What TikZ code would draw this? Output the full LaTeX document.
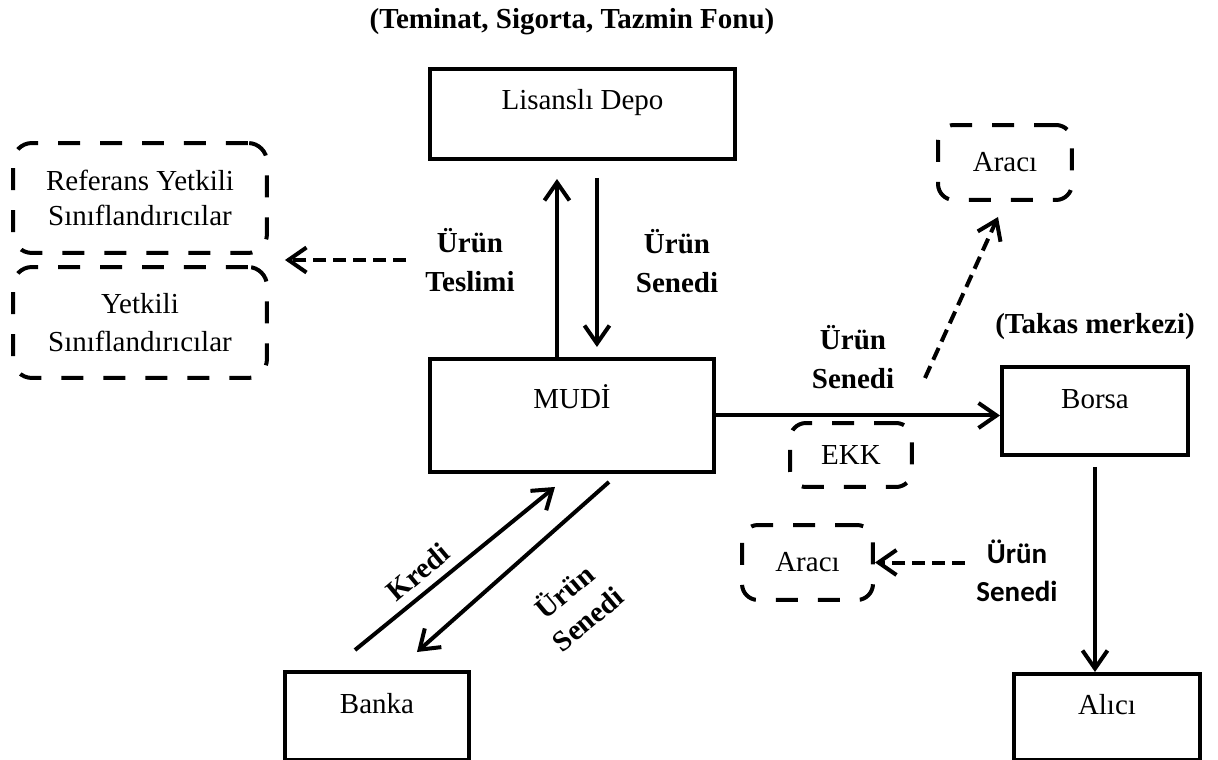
\documentclass[tikz,border=0pt]{standalone}
\usepackage{fontspec}
\setmainfont{Liberation Serif}
\newfontfamily\calibri{Carlito}
\usetikzlibrary{arrows.meta}
\tikzset{
  kutu/.style={draw, line width=0.08cm, inner sep=0pt, anchor=north west, font=\fontsize{16.5}{20}\selectfont},
  kesikkutu/.style={draw, line width=0.08cm, dash pattern=on 0.44cm off 0.4cm, rounded corners=0.38cm, align=center, font=\fontsize{16.5}{19.5}\selectfont},
  etiket/.style={align=center, font=\bfseries\fontsize{16.5}{22.5}\selectfont},
  ok/.style={line width=0.08cm, -{Straight Barb[length=0.36cm,width=0.5cm]}},
  kesikok/.style={ok, dash pattern=on 0.26cm off 0.14cm}
}
\begin{document}
\begin{tikzpicture}[x=0.02cm, y=-0.02cm]
 \useasboundingbox (0,0) rectangle (1218,760);
 \node[kutu, minimum width=6.1cm, text height=0.82cm, text depth=0.98cm] (depo) at (428,67) {Lisanslı Depo};
 \node[kutu, minimum width=5.68cm, text height=1.0cm, text depth=1.26cm] (mudi) at (428,357) {MUDİ};
 \node[kutu, minimum width=3.72cm, text height=0.84cm, text depth=0.92cm] (borsa) at (1000,365) {Borsa};
 \node[kutu, minimum width=3.68cm, text height=0.84cm, text depth=0.92cm] (banka) at (283,670) {Banka};
 \node[kutu, minimum width=3.72cm, text height=0.82cm, text depth=0.9cm] (alici) at (1012,672) {Alıcı};
 \node[kesikkutu, minimum width=5.08cm, minimum height=2.2cm] (ref) at (140,198) {Referans Yetkili\\Sınıflandırıcılar};
 \node[kesikkutu, minimum width=5.08cm, minimum height=2.22cm, font=\fontsize{16.5}{22}\selectfont] (yetkili) at (140,322.5) {Yetkili\\Sınıflandırıcılar};
 \node[kesikkutu, minimum width=2.68cm, minimum height=1.5cm, rounded corners=0.32cm] (araci1) at (1005,162.5) {Aracı};
 \node[kesikkutu, minimum width=2.44cm, minimum height=1.28cm, rounded corners=0.32cm] (ekk) at (851,455) {EKK};
 \node[kesikkutu, minimum width=2.62cm, minimum height=1.5cm, rounded corners=0.32cm] (araci2) at (807.5,562.5) {Aracı};
 \node[etiket] (baslik) at (572,22) {(Teminat, Sigorta, Tazmin Fonu)};
 \node[etiket] (teslim) at (470,260) {Ürün\\Teslimi};
 \node[etiket] (senedi1) at (677,261) {Ürün\\Senedi};
 \node[etiket, font=\bfseries\fontsize{16.5}{22}\selectfont] (senedi2) at (853,357) {Ürün\\Senedi};
 \node[etiket] (takas) at (1095,327) {(Takas merkezi)};
 \node[etiket, font=\calibri\bfseries\fontsize{16.5}{21.5}\selectfont] (senedi3) at (1017,571) {Ürün\\Senedi};
 \node[etiket, rotate=40] (kredi) at (418,572) {Kredi};
 \node[etiket, rotate=40, font=\bfseries\fontsize{16.5}{20.5}\selectfont] (senedi4) at (575,604) {Ürün\\Senedi};
 \coordinate (cikis) at (925,378);
 \draw[ok, shorten >=0.36cm] ([xshift=-0.3cm]mudi.north) -- ([xshift=-0.3cm]mudi.north |- depo.south);
 \draw[ok, shorten <=0.34cm, shorten >=0.2cm] ([xshift=0.5cm]mudi.north |- depo.south) -- ([xshift=0.5cm]mudi.north);
 \draw[ok] (mudi.east) -- (mudi.east -| borsa.west);
 \draw[ok, shorten <=0.2cm] (borsa.south) -- (borsa.south |- alici.north);
 \draw[ok] ([xshift=-0.44cm,yshift=0.4cm]banka.north) -- ([xshift=-0.34cm,yshift=-0.26cm]mudi.south);
 \draw[ok] ([xshift=0.74cm,yshift=-0.16cm]mudi.south) -- ([xshift=0.8cm,yshift=0.36cm]banka.north);
 \draw[kesikok, shorten <=0.26cm, shorten >=0.32cm] (teslim.west) -- (teslim.west -| ref.east);
 \draw[kesikok] (cikis) -- ([xshift=-0.14cm,yshift=-0.3cm]araci1.south);
 \draw[kesikok, shorten <=0.1cm] (araci2.east -| senedi3.west) -- (araci2.east);
\end{tikzpicture}
\end{document}
